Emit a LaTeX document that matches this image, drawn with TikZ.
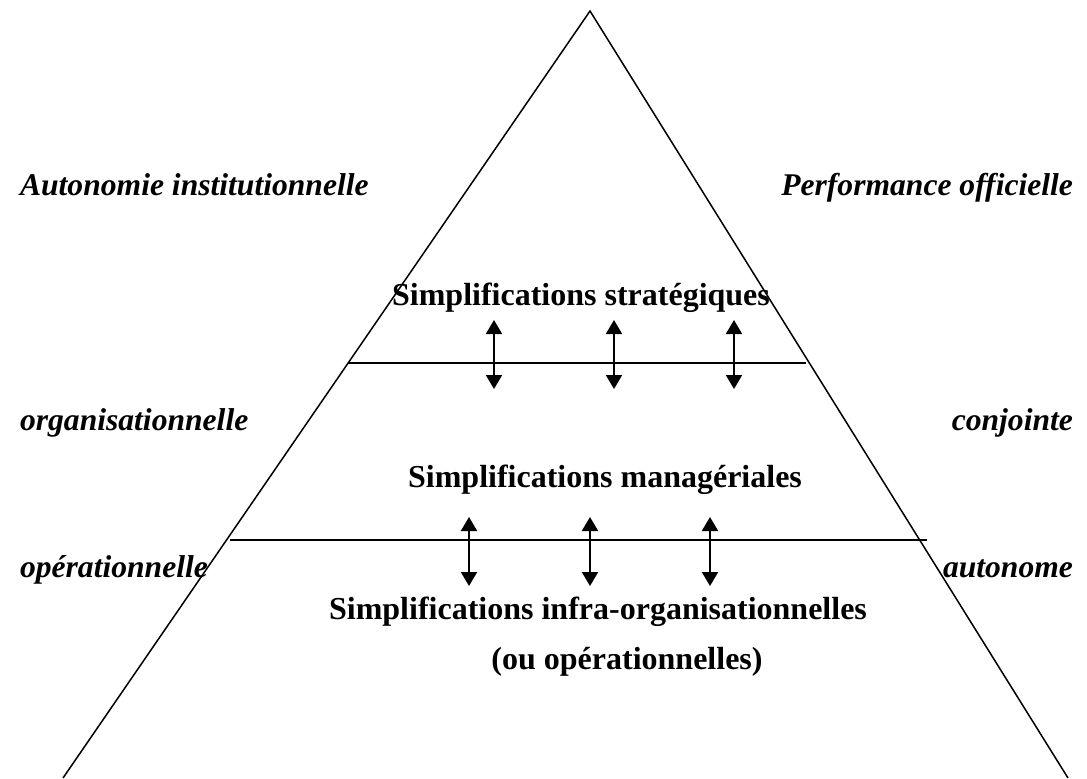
\documentclass[tikz,border=0pt]{standalone}
\usepackage{fontspec}
\setmainfont{Liberation Serif}
\usetikzlibrary{arrows.meta}
\tikzset{>=stealth}

\begin{document}
\begin{tikzpicture}[x=0.5pt,y=-0.5pt,
		level/.style={font=\fontsize{16}{19}\selectfont\bfseries, anchor=base},
		side/.style={font=\fontsize{15.8}{19}\selectfont\bfseries\itshape, anchor=base west},
		sider/.style={side, anchor=base east},
		updown/.style={{Triangle[width=8pt,length=7pt]}-{Triangle[width=8pt,length=7pt]}, line width=1pt}]
	\useasboundingbox (0,0) rectangle (1087,778);
	% pyramide
	\coordinate (apex) at (590,11);
	\coordinate (baseL) at (63,778);
	\coordinate (baseR) at (1068,778);
	\draw [line width=0.75pt] (baseL) -- (apex) -- (baseR);
	% separations
	\coordinate (sepAL) at (348,363);
	\coordinate (sepAR) at (806,363);
	\coordinate (sepBL) at (230,540);
	\coordinate (sepBR) at (927,540);
	\draw [line width=0.9pt] (sepAL) -- (sepAR);
	\draw [line width=0.9pt] (sepBL) -- (sepBR);
	% niveaux
	\node [level] (strat) at (581,305) {Simplifications stratégiques};
	\node [level] (manag) at (605,487) {Simplifications managériales};
	\node [level] (infra) at (598,619) {Simplifications infra-organisationnelles};
	\node [level] (oper) at (627,669) {(ou opérationnelles)};
	% autonomie / performance
	\node [side] (autInst) at (13,195) {Autonomie institutionnelle};
	\node [side] (autOrg) at (13,430) {organisationnelle};
	\node [side] (autOp) at (13,577) {opérationnelle};
	\node [sider] (perfOff) at (1080,195) {Performance officielle};
	\node [sider] (perfConj) at (1080,430) {conjointe};
	\node [sider] (perfAut) at (1080,577) {autonome};
	% fleches
	\foreach \x/\n in {494/a,614/b,734/c} {
		\coordinate (hi\n) at (\x,320);
		\coordinate (lo\n) at (\x,389);
		\draw [updown] (hi\n) -- (lo\n);
	}
	\foreach \x/\n in {469/d,590/e,710/f} {
		\coordinate (hi\n) at (\x,517);
		\coordinate (lo\n) at (\x,586);
		\draw [updown] (hi\n) -- (lo\n);
	}
\end{tikzpicture}
\end{document}
